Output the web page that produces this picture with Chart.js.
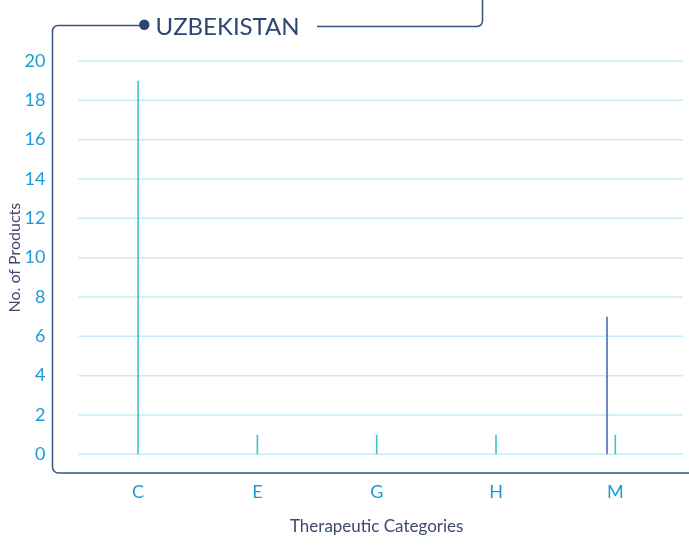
<!DOCTYPE html>
<html>
<head>
<meta charset="utf-8">
<script src="https://cdn.jsdelivr.net/npm/chart.js@4"></script>
<style>
  html, body { margin: 0; padding: 0; background: #fff; }
  #wrap { width: 689px; height: 552px; position: relative; }
</style>
</head>
<body>
<div id="wrap"><canvas id="grafico"></canvas></div>
<script>
// categorias terapêuticas e contagem de produtos por série
const categories = ['C', 'E', 'G', 'H', 'M'];
const series1 = [0, 0, 0, 0, 7];
const series2 = [19, 1, 1, 1, 1];
const series3 = [0, 0, 0, 0, 0];
const yMin = 0;
const yMax = 20;
const yStep = 2;

const countryName = 'UZBEKISTAN';
const fonte = 'Lato, "Noto Sans", sans-serif';

// moldura com cantos arredondados e título do país
const moldura = {
  id: 'moldura',
  beforeDraw(chart) {
    const ctx = chart.ctx;
    ctx.save();
    ctx.strokeStyle = '#3a527e';
    ctx.lineWidth = 1.5;

    ctx.beginPath();
    ctx.moveTo(144, 25.5);
    ctx.lineTo(58, 25.5);
    ctx.arcTo(52.5, 25.5, 52.5, 31, 5.5);
    ctx.lineTo(52.5, 467);
    ctx.arcTo(52.5, 473, 58.5, 473, 6);
    ctx.lineTo(689, 473);
    ctx.stroke();

    ctx.beginPath();
    ctx.moveTo(317, 26.5);
    ctx.lineTo(477, 26.5);
    ctx.arcTo(482.5, 26.5, 482.5, 21, 5.5);
    ctx.lineTo(482.5, 0);
    ctx.stroke();

    ctx.fillStyle = '#2b4672';
    ctx.beginPath();
    ctx.arc(144.3, 24.8, 5.2, 0, Math.PI * 2);
    ctx.fill();

    ctx.font = '24px ' + fonte;
    ctx.textBaseline = 'alphabetic';
    ctx.textAlign = 'left';
    ctx.fillText(countryName, 155.5, 34.5);
    ctx.restore();
  }
};

// linhas de grade um pouco mais longas que a área do gráfico
const grade = {
  id: 'grade',
  beforeDatasetsDraw(chart) {
    const ctx = chart.ctx;
    const area = chart.chartArea;
    const y = chart.scales.y;
    ctx.save();
    ctx.strokeStyle = '#c8eaf7';
    ctx.lineWidth = 1.5;
    y.ticks.forEach((t) => {
      const py = y.getPixelForValue(t.value);
      ctx.beginPath();
      ctx.moveTo(area.left, py);
      ctx.lineTo(area.right + 8, py);
      ctx.stroke();
    });
    ctx.restore();
  }
};

const ctx = document.getElementById('grafico');

new Chart(ctx, {
  type: 'bar',
  data: {
    labels: categories,
    datasets: [
      { label: 'Série 1', data: series1, backgroundColor: '#6b88c2', barPercentage: 0.24 },
      { label: 'Série 2', data: series2, backgroundColor: '#3cc3c8', barPercentage: 0.19 },
      { label: 'Série 3', data: series3, backgroundColor: '#3cc3c8', barPercentage: 0.19 }
    ]
  },
  options: {
    responsive: true,
    maintainAspectRatio: false,
    animation: false,
    categoryPercentage: 0.209,
    layout: { padding: { top: 61, right: 14, bottom: 15, left: 5 } },
    plugins: {
      legend: { display: false },
      tooltip: { enabled: false }
    },
    scales: {
      x: {
        grid: { display: false },
        border: { display: false },
        ticks: { color: '#1e9bd7', font: { family: fonte, size: 18 }, padding: 19 },
        title: {
          display: true,
          text: 'Therapeutic Categories',
          color: '#3d4a6b',
          font: { family: fonte, size: 17 },
          padding: { top: 0, bottom: 0 }
        },
        afterFit: (s) => { s.height = 82.7; }
      },
      y: {
        min: yMin,
        max: yMax,
        grid: { display: false },
        border: { display: false },
        ticks: { stepSize: yStep, color: '#1e9bd7', font: { family: fonte, size: 18 }, padding: 25 },
        title: {
          display: true,
          text: 'No. of Products',
          color: '#3d4a6b',
          font: { family: fonte, size: 16 },
          padding: { top: 0, bottom: 0 }
        },
        afterFit: (s) => { s.width = 73.4; }
      }
    }
  },
  plugins: [moldura, grade]
});
</script>
</body>
</html>
